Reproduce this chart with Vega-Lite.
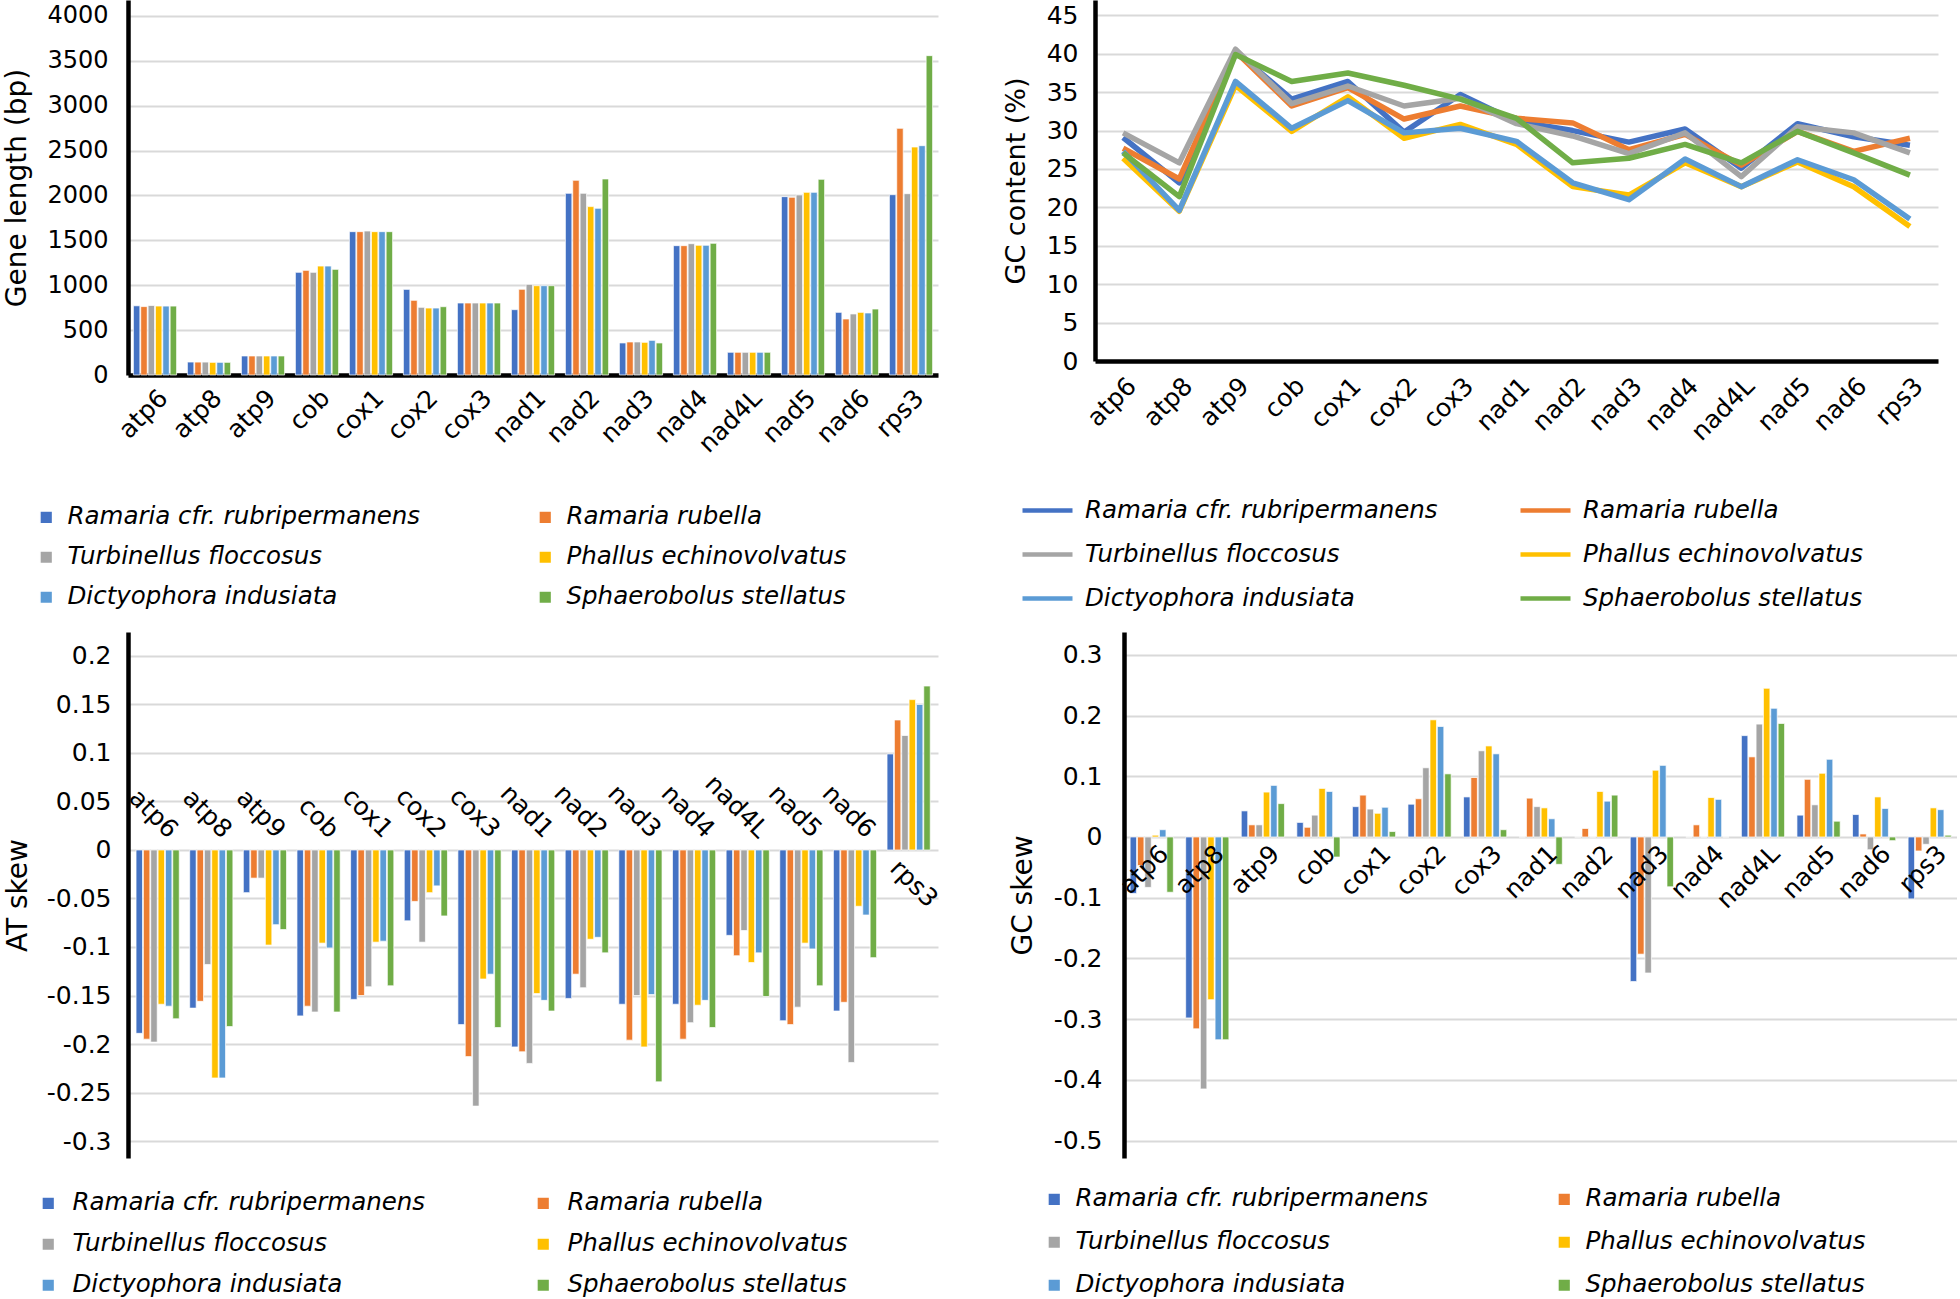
{
"$schema": "https://vega.github.io/schema/vega-lite/v6.json",
"padding": {"left": 3, "top": 0, "right": 0, "bottom": 0},
"background": "white",
"datasets": {"d": [
{"g":"atp6","s":"Ramaria cfr. rubripermanens","len":771,"gc":29.1,"at":-0.189,"gcs":-0.093},
{"g":"atp6","s":"Ramaria rubella","len":762,"gc":27.7,"at":-0.195,"gcs":-0.047},
{"g":"atp6","s":"Turbinellus floccosus","len":774,"gc":29.7,"at":-0.198,"gcs":-0.083},
{"g":"atp6","s":"Phallus echinovolvatus","len":768,"gc":26.4,"at":-0.159,"gcs":0.003},
{"g":"atp6","s":"Dictyophora indusiata","len":768,"gc":27.3,"at":-0.161,"gcs":0.012},
{"g":"atp6","s":"Sphaerobolus stellatus","len":768,"gc":27.1,"at":-0.174,"gcs":-0.091},
{"g":"atp8","s":"Ramaria cfr. rubripermanens","len":144,"gc":23.2,"at":-0.163,"gcs":-0.298},
{"g":"atp8","s":"Ramaria rubella","len":144,"gc":23.7,"at":-0.156,"gcs":-0.316},
{"g":"atp8","s":"Turbinellus floccosus","len":144,"gc":25.8,"at":-0.118,"gcs":-0.415},
{"g":"atp8","s":"Phallus echinovolvatus","len":141,"gc":19.5,"at":-0.235,"gcs":-0.268},
{"g":"atp8","s":"Dictyophora indusiata","len":141,"gc":19.6,"at":-0.235,"gcs":-0.334},
{"g":"atp8","s":"Sphaerobolus stellatus","len":141,"gc":21.4,"at":-0.182,"gcs":-0.334},
{"g":"atp9","s":"Ramaria cfr. rubripermanens","len":212,"gc":40.3,"at":-0.044,"gcs":0.043},
{"g":"atp9","s":"Ramaria rubella","len":212,"gc":40.3,"at":-0.029,"gcs":0.020},
{"g":"atp9","s":"Turbinellus floccosus","len":212,"gc":40.6,"at":-0.029,"gcs":0.020},
{"g":"atp9","s":"Phallus echinovolvatus","len":212,"gc":35.9,"at":-0.098,"gcs":0.074},
{"g":"atp9","s":"Dictyophora indusiata","len":212,"gc":36.4,"at":-0.077,"gcs":0.085},
{"g":"atp9","s":"Sphaerobolus stellatus","len":212,"gc":39.9,"at":-0.082,"gcs":0.055},
{"g":"cob","s":"Ramaria cfr. rubripermanens","len":1144,"gc":34.1,"at":-0.171,"gcs":0.024},
{"g":"cob","s":"Ramaria rubella","len":1166,"gc":33.2,"at":-0.161,"gcs":0.016},
{"g":"cob","s":"Turbinellus floccosus","len":1144,"gc":33.5,"at":-0.167,"gcs":0.036},
{"g":"cob","s":"Phallus echinovolvatus","len":1214,"gc":29.9,"at":-0.096,"gcs":0.080},
{"g":"cob","s":"Dictyophora indusiata","len":1214,"gc":30.3,"at":-0.101,"gcs":0.075},
{"g":"cob","s":"Sphaerobolus stellatus","len":1177,"gc":36.4,"at":-0.167,"gcs":-0.033},
{"g":"cox1","s":"Ramaria cfr. rubripermanens","len":1597,"gc":36.4,"at":-0.154,"gcs":0.050},
{"g":"cox1","s":"Ramaria rubella","len":1597,"gc":35.6,"at":-0.150,"gcs":0.069},
{"g":"cox1","s":"Turbinellus floccosus","len":1604,"gc":35.8,"at":-0.141,"gcs":0.046},
{"g":"cox1","s":"Phallus echinovolvatus","len":1597,"gc":34.4,"at":-0.095,"gcs":0.039},
{"g":"cox1","s":"Dictyophora indusiata","len":1597,"gc":33.9,"at":-0.094,"gcs":0.049},
{"g":"cox1","s":"Sphaerobolus stellatus","len":1597,"gc":37.5,"at":-0.140,"gcs":0.009},
{"g":"cox2","s":"Ramaria cfr. rubripermanens","len":954,"gc":29.8,"at":-0.073,"gcs":0.054},
{"g":"cox2","s":"Ramaria rubella","len":832,"gc":31.5,"at":-0.053,"gcs":0.063},
{"g":"cox2","s":"Turbinellus floccosus","len":754,"gc":33.2,"at":-0.095,"gcs":0.114},
{"g":"cox2","s":"Phallus echinovolvatus","len":746,"gc":29.0,"at":-0.044,"gcs":0.193},
{"g":"cox2","s":"Dictyophora indusiata","len":746,"gc":29.7,"at":-0.037,"gcs":0.182},
{"g":"cox2","s":"Sphaerobolus stellatus","len":761,"gc":35.9,"at":-0.068,"gcs":0.104},
{"g":"cox3","s":"Ramaria cfr. rubripermanens","len":802,"gc":34.7,"at":-0.180,"gcs":0.066},
{"g":"cox3","s":"Ramaria rubella","len":802,"gc":33.2,"at":-0.213,"gcs":0.098},
{"g":"cox3","s":"Turbinellus floccosus","len":802,"gc":34.2,"at":-0.264,"gcs":0.142},
{"g":"cox3","s":"Phallus echinovolvatus","len":802,"gc":30.8,"at":-0.133,"gcs":0.150},
{"g":"cox3","s":"Dictyophora indusiata","len":802,"gc":30.3,"at":-0.128,"gcs":0.137},
{"g":"cox3","s":"Sphaerobolus stellatus","len":802,"gc":34.1,"at":-0.183,"gcs":0.012},
{"g":"nad1","s":"Ramaria cfr. rubripermanens","len":728,"gc":31.2,"at":-0.203,"gcs":0},
{"g":"nad1","s":"Ramaria rubella","len":955,"gc":31.6,"at":-0.208,"gcs":0.064},
{"g":"nad1","s":"Turbinellus floccosus","len":1010,"gc":30.9,"at":-0.220,"gcs":0.050},
{"g":"nad1","s":"Phallus echinovolvatus","len":995,"gc":28.2,"at":-0.148,"gcs":0.048},
{"g":"nad1","s":"Dictyophora indusiata","len":995,"gc":28.6,"at":-0.155,"gcs":0.030},
{"g":"nad1","s":"Sphaerobolus stellatus","len":995,"gc":31.6,"at":-0.166,"gcs":-0.045},
{"g":"nad2","s":"Ramaria cfr. rubripermanens","len":2024,"gc":30.0,"at":-0.153,"gcs":0},
{"g":"nad2","s":"Ramaria rubella","len":2169,"gc":31.0,"at":-0.128,"gcs":0.014},
{"g":"nad2","s":"Turbinellus floccosus","len":2024,"gc":29.3,"at":-0.142,"gcs":0},
{"g":"nad2","s":"Phallus echinovolvatus","len":1876,"gc":22.7,"at":-0.092,"gcs":0.075},
{"g":"nad2","s":"Dictyophora indusiata","len":1857,"gc":23.2,"at":-0.090,"gcs":0.059},
{"g":"nad2","s":"Sphaerobolus stellatus","len":2184,"gc":25.8,"at":-0.106,"gcs":0.069},
{"g":"nad3","s":"Ramaria cfr. rubripermanens","len":357,"gc":28.5,"at":-0.159,"gcs":-0.238},
{"g":"nad3","s":"Ramaria rubella","len":368,"gc":27.5,"at":-0.196,"gcs":-0.193},
{"g":"nad3","s":"Turbinellus floccosus","len":368,"gc":27.0,"at":-0.150,"gcs":-0.224},
{"g":"nad3","s":"Phallus echinovolvatus","len":364,"gc":21.6,"at":-0.203,"gcs":0.110},
{"g":"nad3","s":"Dictyophora indusiata","len":386,"gc":21.0,"at":-0.149,"gcs":0.118},
{"g":"nad3","s":"Sphaerobolus stellatus","len":357,"gc":26.4,"at":-0.239,"gcs":-0.082},
{"g":"nad4","s":"Ramaria cfr. rubripermanens","len":1441,"gc":30.2,"at":-0.159,"gcs":0},
{"g":"nad4","s":"Ramaria rubella","len":1441,"gc":29.5,"at":-0.195,"gcs":0.020},
{"g":"nad4","s":"Turbinellus floccosus","len":1463,"gc":29.7,"at":-0.178,"gcs":0},
{"g":"nad4","s":"Phallus echinovolvatus","len":1445,"gc":25.8,"at":-0.160,"gcs":0.065},
{"g":"nad4","s":"Dictyophora indusiata","len":1445,"gc":26.3,"at":-0.155,"gcs":0.062},
{"g":"nad4","s":"Sphaerobolus stellatus","len":1467,"gc":28.2,"at":-0.183,"gcs":0},
{"g":"nad4L","s":"Ramaria cfr. rubripermanens","len":253,"gc":25.1,"at":-0.088,"gcs":0.167},
{"g":"nad4L","s":"Ramaria rubella","len":253,"gc":25.5,"at":-0.109,"gcs":0.132},
{"g":"nad4L","s":"Turbinellus floccosus","len":253,"gc":24.0,"at":-0.083,"gcs":0.186},
{"g":"nad4L","s":"Phallus echinovolvatus","len":253,"gc":22.7,"at":-0.116,"gcs":0.245},
{"g":"nad4L","s":"Dictyophora indusiata","len":253,"gc":22.7,"at":-0.106,"gcs":0.212},
{"g":"nad4L","s":"Sphaerobolus stellatus","len":253,"gc":25.8,"at":-0.151,"gcs":0.187},
{"g":"nad5","s":"Ramaria cfr. rubripermanens","len":1987,"gc":30.9,"at":-0.176,"gcs":0.036},
{"g":"nad5","s":"Ramaria rubella","len":1980,"gc":29.9,"at":-0.180,"gcs":0.095},
{"g":"nad5","s":"Turbinellus floccosus","len":2006,"gc":30.5,"at":-0.162,"gcs":0.053},
{"g":"nad5","s":"Phallus echinovolvatus","len":2035,"gc":25.9,"at":-0.096,"gcs":0.105},
{"g":"nad5","s":"Dictyophora indusiata","len":2035,"gc":26.2,"at":-0.102,"gcs":0.128},
{"g":"nad5","s":"Sphaerobolus stellatus","len":2180,"gc":29.9,"at":-0.140,"gcs":0.026},
{"g":"nad6","s":"Ramaria cfr. rubripermanens","len":698,"gc":29.2,"at":-0.166,"gcs":0.037},
{"g":"nad6","s":"Ramaria rubella","len":624,"gc":27.3,"at":-0.157,"gcs":0.005},
{"g":"nad6","s":"Turbinellus floccosus","len":680,"gc":29.7,"at":-0.219,"gcs":-0.021},
{"g":"nad6","s":"Phallus echinovolvatus","len":698,"gc":22.7,"at":-0.058,"gcs":0.066},
{"g":"nad6","s":"Dictyophora indusiata","len":691,"gc":23.6,"at":-0.067,"gcs":0.047},
{"g":"nad6","s":"Sphaerobolus stellatus","len":735,"gc":27.1,"at":-0.111,"gcs":-0.006},
{"g":"rps3","s":"Ramaria cfr. rubripermanens","len":2009,"gc":28.1,"at":0.099,"gcs":-0.102},
{"g":"rps3","s":"Ramaria rubella","len":2748,"gc":29.0,"at":0.134,"gcs":-0.023},
{"g":"rps3","s":"Turbinellus floccosus","len":2020,"gc":27.1,"at":0.118,"gcs":-0.012},
{"g":"rps3","s":"Phallus echinovolvatus","len":2540,"gc":17.5,"at":0.155,"gcs":0.048},
{"g":"rps3","s":"Dictyophora indusiata","len":2555,"gc":18.5,"at":0.150,"gcs":0.045},
{"g":"rps3","s":"Sphaerobolus stellatus","len":3558,"gc":24.2,"at":0.169,"gcs":0.003}
]},
"config": {
  "view": {"stroke": null},
  "font": "DejaVu Sans",
  "axis": {"ticks": false, "tickSize": 0, "labelColor": "#000", "titleColor": "#000", "titleFontWeight": "normal", "domainColor": "#000", "domainWidth": 4.5, "gridColor": "#D9D9D9", "gridWidth": 2, "labelFontSize": 25, "titleFontSize": 28, "labelFont": "DejaVu Sans", "titleFont": "DejaVu Sans"},
  "legend": {"title": null, "orient": "none", "direction": "horizontal", "columns": 2, "padding": 0, "labelFontSize": 24.5, "labelFontStyle": "italic", "labelFont": "DejaVu Sans", "labelColor": "#000", "labelLimit": 1000}
},
"resolve": {"scale": {"color": "independent"}, "legend": {"color": "independent"}},
"spacing": 22,
"vconcat": [
 {"spacing": 64,
  "resolve": {"scale": {"color": "independent"}, "legend": {"color": "independent"}},
  "hconcat": [
  {"width": 810, "height": 375, "data": {"name": "d"},
   "mark": {"type": "bar", "stroke": "white", "strokeWidth": 0.7},
   "encoding": {
     "x": {"field": "g", "type": "nominal", "sort": null, "scale": {"domain": ["atp6","atp8","atp9","cob","cox1","cox2","cox3","nad1","nad2","nad3","nad4","nad4L","nad5","nad6","rps3"], "paddingInner": 0.2, "paddingOuter": 0.1}, "axis": {"title": null, "labelAngle": -45, "labelPadding": 10, "grid": false}},
     "xOffset": {"field": "s", "type": "nominal", "sort": null, "scale": {"paddingInner": 0.12}},
     "y": {"field": "len", "type": "quantitative", "scale": {"domain": [0, 4178], "nice": false}, "axis": {"title": "Gene length (bp)", "format": "d", "values": [0,500,1000,1500,2000,2500,3000,3500,4000], "labelFontSize": 24, "labelPadding": 20, "titlePadding": 15, "grid": true}},
     "color": {"field": "s", "type": "nominal", "sort": null, "scale": {"domain": ["Ramaria cfr. rubripermanens","Ramaria rubella","Turbinellus floccosus","Phallus echinovolvatus","Dictyophora indusiata","Sphaerobolus stellatus"], "range": ["#4472C4","#ED7D31","#A5A5A5","#FFC000","#5B9BD5","#70AD47"]},
       "legend": {"legendX": -94, "legendY": 505, "columnPadding": 112, "rowPadding": 15, "symbolType": "square", "symbolSize": 160, "labelOffset": 9}}
   }},
  {"width": 843, "height": 361, "data": {"name": "d"},
   "mark": {"type": "line", "strokeWidth": 5.5, "strokeJoin": "round"},
   "encoding": {
     "x": {"field": "g", "type": "nominal", "sort": null, "scale": {"type": "point", "padding": 0.5, "domain": ["atp6","atp8","atp9","cob","cox1","cox2","cox3","nad1","nad2","nad3","nad4","nad4L","nad5","nad6","rps3"]}, "axis": {"title": null, "labelAngle": -45, "labelPadding": 12, "grid": false}},
     "y": {"field": "gc", "type": "quantitative", "scale": {"domain": [0, 47], "nice": false}, "axis": {"title": "GC content (%)", "titleFontSize": 27, "values": [0,5,10,15,20,25,30,35,40,45], "labelPadding": 17, "titlePadding": 16, "grid": true}},
     "color": {"field": "s", "type": "nominal", "sort": null, "scale": {"domain": ["Ramaria cfr. rubripermanens","Ramaria rubella","Turbinellus floccosus","Phallus echinovolvatus","Dictyophora indusiata","Sphaerobolus stellatus"], "range": ["#4472C4","#ED7D31","#A5A5A5","#FFC000","#5B9BD5","#70AD47"]},
       "legend": {"legendX": -75, "legendY": 483, "columnPadding": 73, "rowPadding": 5, "symbolType": "stroke", "symbolSize": 2500, "symbolStrokeWidth": 4.5, "labelOffset": 10}}
   }}
 ]},
 {"spacing": 67,
  "resolve": {"scale": {"color": "independent"}, "legend": {"color": "independent"}},
  "hconcat": [
  {"width": 810, "height": 526, "data": {"name": "d"},
   "encoding": {"x": {"field": "g", "type": "nominal", "sort": null, "scale": {"domain": ["atp6","atp8","atp9","cob","cox1","cox2","cox3","nad1","nad2","nad3","nad4","nad4L","nad5","nad6","rps3"], "paddingInner": 0.2, "paddingOuter": 0.15}, "axis": null}},
   "layer": [
    {"mark": {"type": "bar", "stroke": "white", "strokeWidth": 0.7},
     "encoding": {
       "xOffset": {"field": "s", "type": "nominal", "sort": null, "scale": {"paddingInner": 0.12}},
       "y": {"field": "at", "type": "quantitative", "scale": {"domain": [-0.3175, 0.2247], "nice": false, "zero": false}, "axis": {"title": "AT skew", "values": [-0.3,-0.25,-0.2,-0.15,-0.1,-0.05,0,0.05,0.1,0.15,0.2], "labelExpr": "'' + round(datum.value*100)/100", "labelPadding": 17, "titlePadding": 14, "grid": true}},
       "color": {"field": "s", "type": "nominal", "sort": null, "scale": {"domain": ["Ramaria cfr. rubripermanens","Ramaria rubella","Turbinellus floccosus","Phallus echinovolvatus","Dictyophora indusiata","Sphaerobolus stellatus"], "range": ["#4472C4","#ED7D31","#A5A5A5","#FFC000","#5B9BD5","#70AD47"]},
         "legend": {"legendX": -92, "legendY": 559, "columnPadding": 105, "rowPadding": 16, "symbolType": "square", "symbolSize": 160, "labelOffset": 12}}
     }},
    {"mark": {"type": "rule", "color": "#000", "strokeWidth": 4.5},
     "encoding": {"y": {"datum": 0, "type": "quantitative"}}},
    {"transform": [{"filter": "datum.s == 'Ramaria cfr. rubripermanens' && datum.g != 'rps3'"}],
     "mark": {"type": "text", "angle": 45, "align": "right", "baseline": "bottom", "fontSize": 25, "dy": -10, "color": "#000"},
     "encoding": {"y": {"datum": 0, "type": "quantitative"}, "text": {"field": "g"}}},
    {"transform": [{"filter": "datum.s == 'Ramaria cfr. rubripermanens' && datum.g == 'rps3'"}],
     "mark": {"type": "text", "angle": 45, "align": "left", "baseline": "top", "fontSize": 25, "dy": 8, "color": "#000"},
     "encoding": {"y": {"datum": 0, "type": "quantitative"}, "text": {"field": "g"}}}
   ]},
  {"width": 833, "height": 526, "data": {"name": "d"},
   "encoding": {"x": {"field": "g", "type": "nominal", "sort": null, "scale": {"domain": ["atp6","atp8","atp9","cob","cox1","cox2","cox3","nad1","nad2","nad3","nad4","nad4L","nad5","nad6","rps3"], "paddingInner": 0.23, "paddingOuter": 0.11}, "axis": null}},
   "layer": [
    {"mark": {"type": "bar", "stroke": "white", "strokeWidth": 0.7},
     "encoding": {
       "xOffset": {"field": "s", "type": "nominal", "sort": null, "scale": {"paddingInner": 0.12}},
       "y": {"field": "gcs", "type": "quantitative", "scale": {"domain": [-0.5288, 0.3377], "nice": false, "zero": false}, "axis": {"title": "GC skew", "values": [-0.5,-0.4,-0.3,-0.2,-0.1,0,0.1,0.2,0.3], "labelExpr": "'' + round(datum.value*10)/10", "labelPadding": 22, "titlePadding": 16, "grid": true}},
       "color": {"field": "s", "type": "nominal", "sort": null, "scale": {"domain": ["Ramaria cfr. rubripermanens","Ramaria rubella","Turbinellus floccosus","Phallus echinovolvatus","Dictyophora indusiata","Sphaerobolus stellatus"], "range": ["#4472C4","#ED7D31","#A5A5A5","#FFC000","#5B9BD5","#70AD47"]},
         "legend": {"legendX": -82, "legendY": 555, "columnPadding": 123, "rowPadding": 18, "symbolType": "square", "symbolSize": 160, "labelOffset": 9}}
     }},
    {"mark": {"type": "rule", "color": "#000", "strokeWidth": 4.5},
     "encoding": {"y": {"datum": 0, "type": "quantitative"}}},
    {"transform": [{"filter": "datum.s == 'Ramaria cfr. rubripermanens'"}],
     "mark": {"type": "text", "angle": -45, "align": "right", "baseline": "top", "fontSize": 25, "dy": 6, "color": "#000"},
     "encoding": {"y": {"datum": 0, "type": "quantitative"}, "text": {"field": "g"}}}
   ]}
 ]}
]
}
